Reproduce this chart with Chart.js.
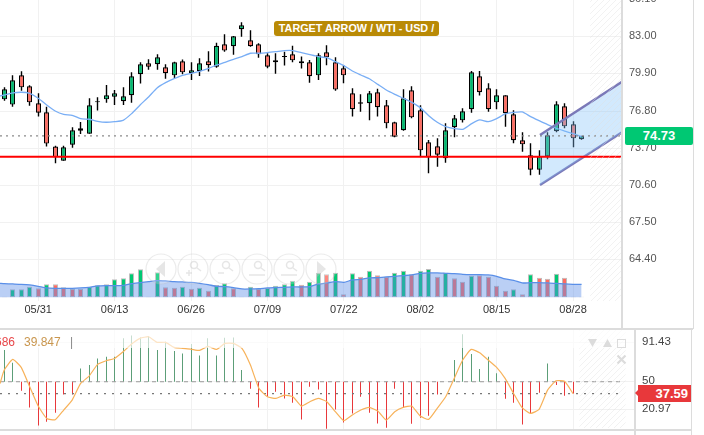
<!DOCTYPE html>
<html>
<head>
<meta charset="utf-8">
<script src="https://cdn.jsdelivr.net/npm/chart.js@4"></script>
<style>
  html, body { margin: 0; padding: 0; background: #fff; overflow: hidden; }
  body { width: 704px; height: 435px; position: relative; font-family: "Liberation Sans", Arial, sans-serif; }
  canvas { position: absolute; left: 0; }
  .rule { position: absolute; background: #dcdcdc; }
  .title { position: absolute; left: 274px; top: 21px; width: 165px; height: 15px; line-height: 15px; background: #b98a06; color: #fff; font-size: 10.8px; font-weight: bold; text-align: center; border-radius: 3px; white-space: nowrap; }
  .tag { position: absolute; color: #fff; font-weight: bold; font-size: 13px; text-align: center; }
  .legend { position: absolute; top: 335px; font-size: 12px; line-height: 14px; white-space: nowrap; }
</style>
</head>
<body>
<canvas id="mainChart" width="704" height="350" style="top:-20px"></canvas>
<canvas id="lowerChart" width="704" height="140" style="top:310px"></canvas>

<div class="rule" style="left:621px;top:0;width:2px;height:329px"></div>
<div class="rule" style="left:693px;top:0;width:1px;height:329px"></div>
<div class="rule" style="left:0;top:328px;width:693px;height:2px"></div>
<div class="rule" style="left:634px;top:330px;width:2px;height:105px"></div>
<div class="rule" style="left:691px;top:330px;width:1px;height:105px"></div>
<div class="rule" style="left:0;top:429px;width:692px;height:2px"></div>

<div class="title">TARGET ARROW / WTI - USD /</div>
<div class="tag" style="left:625px;top:127px;width:68px;height:18px;line-height:18px;background:#00c873;border-radius:2px">74.73</div>
<div class="tag" style="left:638px;top:385px;width:53px;height:17px;line-height:17px;background:#e8383b;text-align:right;box-sizing:border-box;padding-right:3px">37.59</div>
<div style="position:absolute;left:635px;top:390px;width:0;height:0;border-top:3px solid transparent;border-bottom:3px solid transparent;border-right:3px solid #e8383b"></div>
<div class="legend" style="left:-5px;color:#e8474a">686</div>
<div class="legend" style="left:24px;color:#c9964e">39.847</div>
<div class="legend" style="left:70px;color:#888">|</div>

<script>
// weekdays 2019, one per candle
const categories = ["05/27","05/28","05/29","05/30","05/31","06/03","06/04","06/05","06/06","06/07","06/10","06/11","06/12","06/13","06/14","06/17","06/18","06/19","06/20","06/21","06/24","06/25","06/26","06/27","06/28","07/01","07/02","07/03","07/04","07/05","07/08","07/09","07/10","07/11","07/12","07/15","07/16","07/17","07/18","07/19","07/22","07/23","07/24","07/25","07/26","07/29","07/30","07/31","08/01","08/02","08/05","08/06","08/07","08/08","08/09","08/12","08/13","08/14","08/15","08/16","08/19","08/20","08/21","08/22","08/23","08/26","08/27","08/28","08/29"];
const dateTicks = [4, 13, 22, 31, 40, 49, 58, 67];
const priceTicks = [64.40, 67.50, 70.60, 73.70, 76.80, 79.90, 83.00, 86.10];
const rsiTicks = [20.97, 50, 91.43];

const opens = [77.78,77.34,79.78,78.87,77.45,76.70,73.84,72.67,74.00,75.37,74.92,77.53,77.78,78.00,77.62,78.12,79.87,80.78,80.70,80.45,79.78,80.95,79.95,80.12,80.95,80.50,82.37,82.20,83.62,82.70,82.37,81.45,80.87,81.31,81.53,80.95,80.87,79.78,81.70,80.87,80.37,78.28,77.42,77.45,78.37,77.28,75.87,75.20,78.53,76.87,74.20,73.87,72.87,75.45,76.03,76.95,79.70,78.70,77.53,78.12,76.53,74.37,73.12,71.92,73.03,75.12,77.20,75.70,74.45];
const closes = [78.62,79.37,78.78,77.53,76.67,74.09,72.95,73.78,75.20,75.17,77.28,77.62,78.12,78.28,78.03,79.70,80.70,80.50,81.28,79.95,80.87,80.03,80.20,80.78,80.62,82.25,81.84,83.03,83.95,82.20,81.53,80.50,81.03,81.39,81.03,80.78,79.70,81.45,81.28,78.59,79.78,76.95,77.53,78.28,77.12,75.78,74.67,77.87,76.28,73.53,72.95,73.17,75.20,76.20,76.78,80.03,78.37,76.95,78.12,76.62,74.37,74.03,71.92,73.03,74.78,77.37,75.53,74.53,74.73];
const highs = [78.78,79.78,80.12,78.95,78.28,77.17,73.92,73.92,75.45,75.89,77.87,77.95,78.98,78.56,78.78,80.03,80.87,81.12,81.53,80.70,80.92,81.09,80.87,81.20,81.78,82.50,83.20,83.06,84.20,83.53,82.45,81.62,81.62,81.75,82.25,81.34,81.06,81.62,82.28,81.28,80.64,78.70,78.20,78.48,78.67,77.73,75.92,78.62,78.87,77.28,74.39,74.53,75.78,76.48,77.03,80.14,80.14,79.12,78.62,78.12,76.87,75.03,74.12,73.53,75.03,77.62,77.45,75.95,74.75];
const lows = [77.67,77.17,78.50,77.25,76.34,73.84,72.45,72.67,73.75,74.89,74.92,76.84,77.50,77.31,77.31,77.50,79.09,80.25,80.25,79.50,79.53,79.87,79.39,79.73,80.09,80.42,81.75,81.50,83.00,82.17,81.25,80.37,79.92,80.59,80.87,80.34,79.17,79.39,80.62,78.50,79.12,76.34,76.75,76.03,76.34,75.37,74.62,75.17,76.20,73.06,71.62,72.17,72.50,74.62,75.84,76.67,78.09,76.75,76.95,75.50,74.12,73.42,71.45,71.50,72.78,75.03,75.37,73.78,74.42];
const priceMA = [78.14,78.31,78.37,78.28,77.87,77.31,76.81,76.53,76.45,76.17,76.12,75.95,75.87,75.92,76.03,76.59,77.31,77.98,78.73,79.17,79.50,79.78,79.95,80.12,80.34,80.64,80.87,81.12,81.34,81.62,81.62,81.67,81.75,81.84,81.84,81.67,81.50,81.34,81.25,80.92,80.59,80.14,79.81,79.50,79.03,78.56,78.20,77.87,77.53,77.09,76.42,75.87,75.50,75.34,75.28,75.73,76.06,75.92,76.17,76.56,76.70,76.73,76.34,76.00,75.67,75.37,75.14,74.92,74.67];

const volumes = [2,24,24,32,27,39,39,30,25,25,32,36,39,54,57,72,84,2,75,30,29,32,26,29,20,37,42,27,2,32,25,28,35,39,50,38,47,74,69,74,9,72,62,80,66,62,74,80,69,80,85,62,74,57,47,65,66,62,35,20,24,9,69,59,56,71,59,2,2];
const volumeDirs = ["d","u","u","u","d","u","d","d","d","d","u","u","u","u","u","u","u","u","u","d","d","u","d","u","d","u","u","d","d","u","d","u","u","u","u","d","u","u","d","u","d","u","d","u","d","d","u","u","d","u","u","d","u","d","d","u","d","d","d","d","u","d","u","d","d","u","d","d","d"];
const volumeMA = [41,40,39,37,33,28,27,27,27,28,30,34,35,35,36,41,44,47,50,49,47,46,45,42,38,33,32,29,25,25,26,28,29,30,31,31,32,40,43,47,45,52,54,58,59,61,63,65,67,72,73,73,72,71,69,68,68,67,63,55,51,43,44,44,43,42,40,39,39];

const histValues = [83.3,70.0,40.5,23.0,4.1,7.9,17.4,36.7,36.7,64.0,67.5,74.5,76.3,76.3,95.6,98.7,96.6,98.0,83.3,92.1,82.2,79.8,89.6,77.7,95.6,77.7,96.3,96.6,62.3,42.6,23.0,34.2,39.5,32.5,27.9,10.4,44.7,41.9,0.6,20.9,7.2,16.7,34.2,17.4,6.2,1.6,42.6,22.7,5.8,12.1,14.2,36.7,50,72.8,99.8,79.1,63.3,76.3,58.8,32.1,27.9,5.1,16.7,38.4,69.3,46.5,35.3,37.7];
const rsiLine = [62.3,73.5,65.1,44.7,24.4,11.4,10.0,20.2,30.7,48.2,56.0,68.2,72.1,74.5,81.5,89.6,95.6,97.3,91.4,91.4,86.1,85.1,84.3,82.9,87.2,84.0,90.3,90.3,85.1,67.5,43.0,34.2,32.5,36.0,34.2,24.4,29.0,32.5,29.0,18.5,9.0,15.0,20.2,23.0,19.2,9.7,18.5,23.0,24.4,13.9,10.4,22.0,34.2,53.5,72.8,84.0,80.5,72.8,65.1,53.5,37.7,22.7,16.7,20.9,41.2,51.0,50.4,37.59];

const supportLevel = 73.0;
const lastPrice = 74.73;
const lastRsi = 37.59;
const rsiMid = 50;
// channel drawn on the chart, index / price
const channelX = [63.1, 72.76];
const channelUpper = [74.81, 79.25];
const channelLower = [70.64, 75.03];

const GREEN = "#00b96f", RED = "#ff6b60";
const mainMaxX = 72.76, lowerMaxX = 74.3;
const fontFam = '"Liberation Sans", Arial, sans-serif';

Chart.defaults.animation = false;
Chart.defaults.font.family = fontFam;

const indexes = categories.map((c, i) => i);
const upDown = i => closes[i] >= opens[i];

// bars sit on whole pixels so the 1px wicks stay crisp
const snapBars = {
    id: "snapBars",
    afterDatasetsUpdate(chart) {
        chart.getSortedVisibleDatasetMetas().forEach(meta => {
            if (meta.type !== "bar") return;
            meta.data.forEach(b => { b.x = Math.floor(b.x) + 0.5; });
        });
    }
};

function stripes(ctx, x0, y0, x1, y1) {
    const tile = document.createElement("canvas");
    tile.width = tile.height = 6;
    const t = tile.getContext("2d");
    t.strokeStyle = "rgba(222,222,222,0.4)";
    t.lineWidth = 1;
    t.beginPath();
    t.moveTo(-1, 7); t.lineTo(7, -1);
    t.moveTo(-1, 1); t.lineTo(1, -1);
    t.moveTo(5, 7); t.lineTo(7, 5);
    t.stroke();
    ctx.save();
    ctx.fillStyle = ctx.createPattern(tile, "repeat");
    ctx.fillRect(x0, y0, x1 - x0, y1 - y0);
    ctx.restore();
}

// the round zoom buttons over the volume panel
function zoomButton(ctx, cx, cy, kind) {
    ctx.save();
    ctx.strokeStyle = "rgba(190,190,190,0.3)";
    ctx.fillStyle = "rgba(255,255,255,0.2)";
    ctx.lineWidth = 1.2;
    ctx.beginPath();
    ctx.arc(cx, cy, 15, 0, Math.PI * 2);
    ctx.fill();
    ctx.stroke();
    ctx.strokeStyle = ctx.fillStyle = "rgba(190,190,190,0.38)";
    ctx.lineWidth = 1.5;
    ctx.beginPath();
    if (kind === "prev" || kind === "next") {
        const d = kind === "prev" ? -1 : 1;
        ctx.moveTo(cx - d * 4, cy - 8);
        ctx.lineTo(cx + d * 5, cy);
        ctx.lineTo(cx - d * 4, cy + 8);
        ctx.closePath();
        ctx.fill();
    } else {
        ctx.arc(cx + 1, cy - 4, 3.5, 0, Math.PI * 2);
        ctx.moveTo(cx + 3.5, cy - 1.5);
        ctx.lineTo(cx + 8, cy + 2);
        if (kind === "plus" || kind === "minus") {
            ctx.moveTo(cx - 7, cy + 4);
            ctx.lineTo(cx - 1, cy + 4);
        }
        if (kind === "plus") {
            ctx.moveTo(cx - 4, cy + 1);
            ctx.lineTo(cx - 4, cy + 7);
        }
        if (kind === "spread" || kind === "squeeze") {
            ctx.moveTo(cx - 8, cy + 6);
            ctx.lineTo(cx + 8, cy + 6);
        }
        ctx.stroke();
    }
    ctx.restore();
}

const mainDecor = {
    id: "mainDecor",
    afterDatasetsDraw(chart) {
        const { ctx, chartArea, scales } = chart;
        stripes(ctx, scales.x.getPixelForValue(69), chartArea.top, chartArea.right, chartArea.bottom);
    },
    afterDraw(chart) {
        const kinds = ["prev", "plus", "minus", "spread", "squeeze", "next"];
        kinds.forEach((k, i) => zoomButton(chart.ctx, 161 + i * 32, chart.chartArea.top + 269.5, k));
    }
};

new Chart(document.getElementById("mainChart"), {
    type: "bar",
    plugins: [snapBars, mainDecor],
    data: {
        datasets: [
            {
                type: "line", order: 3, yAxisID: "y",
                data: channelX.map((x, i) => ({ x, y: channelUpper[i] })),
                borderColor: "#7b79b8", borderWidth: 2.4, pointRadius: 0, tension: 0,
                fill: "+1", backgroundColor: "rgba(130,195,250,0.36)"
            },
            {
                type: "line", order: 3, yAxisID: "y",
                data: channelX.map((x, i) => ({ x, y: channelLower[i] })),
                borderColor: "#7b79b8", borderWidth: 2.4, pointRadius: 0, tension: 0, fill: false
            },
            {
                type: "line", order: 1, yAxisID: "y",
                data: [{ x: -0.5, y: supportLevel }, { x: mainMaxX, y: supportLevel }],
                borderColor: "#ff0000", borderWidth: 2, pointRadius: 0
            },
            {
                type: "line", order: 2, yAxisID: "y",
                data: [{ x: -0.5, y: lastPrice }, { x: mainMaxX, y: lastPrice }],
                borderColor: "#8a8a8a", borderWidth: 1.2, borderDash: [2, 4], pointRadius: 0
            },
            {
                type: "line", order: 4, yAxisID: "y",
                data: [{ x: -0.5, y: 78.06 }].concat(indexes.map(i => ({ x: i, y: priceMA[i] }))),
                borderColor: "#79aef5", borderWidth: 1.3, pointRadius: 0, tension: 0.2
            },
            {
                order: 5, yAxisID: "y", grouped: false, barThickness: 5, inflateAmount: 0, borderSkipped: false, borderWidth: 1.2, borderColor: "#000",
                data: indexes.map(i => ({ x: i, y: [opens[i], closes[i]] })),
                backgroundColor: indexes.map(i => upDown(i) ? GREEN : RED)
            },
            {
                order: 6, yAxisID: "y", grouped: false, barThickness: 1.4, inflateAmount: 0, borderWidth: 0, backgroundColor: "#000",
                data: indexes.map(i => ({ x: i, y: [lows[i], highs[i]] }))
            },
            {
                type: "line", order: 7, yAxisID: "yVol",
                data: [{ x: -0.5, y: 42 }].concat(indexes.map(i => ({ x: i, y: volumeMA[i] }))),
                borderColor: "#5a8fe8", borderWidth: 1.3, pointRadius: 0, tension: 0.2,
                fill: "origin", backgroundColor: "rgba(90,140,230,0.42)"
            },
            {
                order: 8, yAxisID: "yVol", grouped: false, barThickness: 5, inflateAmount: 0, borderSkipped: false, borderWidth: 1, borderColor: "#bdbdbd",
                data: indexes.map(i => ({ x: i, y: volumes[i] })),
                backgroundColor: indexes.map(i => volumeDirs[i] === "u" ? "#00c873" : RED)
            }
        ]
    },
    options: {
        responsive: false,
        layout: { padding: { top: 19.5, left: 0, right: 0, bottom: 0 } },
        plugins: { legend: { display: false }, tooltip: { enabled: false } },
        scales: {
            x: {
                type: "linear", min: -0.5, max: mainMaxX, offset: false,
                grid: { color: "#f1f1f1", drawTicks: false, offset: false },
                border: { display: false },
                afterBuildTicks: s => { s.ticks = dateTicks.map(v => ({ value: v })); },
                afterFit: s => { s.height = 29; },
                ticks: {
                    autoSkip: false, maxRotation: 0, padding: 2, color: "#333", font: { size: 11 },
                    callback: v => categories[v]
                }
            },
            y: {
                position: "right", min: 60.975, max: 86.1,
                grid: { color: "#f1f1f1", drawTicks: false },
                border: { display: false },
                afterBuildTicks: s => { s.ticks = priceTicks.map(v => ({ value: v })); },
                afterFit: s => { s.width = 82; },
                ticks: {
                    padding: 7, crossAlign: "near", labelOffset: -0.5, color: "#555", font: { size: 11 },
                    callback: v => v.toFixed(2)
                }
            },
            yVol: { display: false, min: -11.1, max: 893.4 }
        }
    }
});

const lowerDecor = {
    id: "lowerDecor",
    afterDatasetsDraw(chart) {
        const { ctx, chartArea, scales } = chart;
        stripes(ctx, scales.x.getPixelForValue(67.75), chartArea.top, scales.x.getPixelForValue(73.2), chartArea.bottom - 1);
        // legend strip washes the top of the panel out
        ctx.save();
        ctx.fillStyle = "rgba(255,255,255,0.65)";
        ctx.fillRect(chartArea.left, chartArea.top, chartArea.width, 18);
        // panel buttons, top right
        ctx.fillStyle = ctx.strokeStyle = "#dcdcdc";
        const t = chartArea.top;
        ctx.beginPath();
        ctx.moveTo(588, t + 9); ctx.lineTo(597, t + 9); ctx.lineTo(592.5, t + 17); ctx.closePath();
        ctx.moveTo(603, t + 17); ctx.lineTo(612, t + 17); ctx.lineTo(607.5, t + 9); ctx.closePath();
        ctx.fill();
        ctx.lineWidth = 1;
        ctx.strokeRect(617.5, t + 9.5, 8, 8);
        ctx.lineWidth = 2.2;
        ctx.beginPath();
        ctx.moveTo(617.5, t + 25.5); ctx.lineTo(625.5, t + 33.5);
        ctx.moveTo(625.5, t + 25.5); ctx.lineTo(617.5, t + 33.5);
        ctx.stroke();
        ctx.restore();
    }
};

const rsiIndexes = rsiLine.map((v, i) => i);
new Chart(document.getElementById("lowerChart"), {
    type: "bar",
    plugins: [snapBars, lowerDecor],
    data: {
        datasets: [
            {
                type: "line", order: 1,
                data: [{ x: -0.5, y: 48 }].concat(rsiIndexes.map(i => ({ x: i, y: rsiLine[i] }))),
                borderColor: "#f7b25a", borderWidth: 1.2, pointRadius: 0, tension: 0.15
            },
            {
                type: "line", order: 2,
                data: [{ x: -0.5, y: rsiMid }, { x: 73, y: rsiMid }],
                borderColor: "#999", borderWidth: 1, borderDash: [4, 4], pointRadius: 0
            },
            {
                type: "line", order: 2,
                data: [{ x: -0.5, y: lastRsi }, { x: 73, y: lastRsi }],
                borderColor: "#777", borderWidth: 1.2, borderDash: [2, 6], pointRadius: 0
            },
            {
                order: 3, grouped: false, barThickness: 1, inflateAmount: 0, borderWidth: 0,
                data: rsiIndexes.map(i => ({ x: i, y: [rsiMid, histValues[i]] })),
                backgroundColor: rsiIndexes.map(i => histValues[i] >= rsiMid ? "#5c9e78" : "#e8383b")
            }
        ]
    },
    options: {
        responsive: false,
        layout: { padding: { top: 20, bottom: 21, left: 0, right: 0 } },
        plugins: { legend: { display: false }, tooltip: { enabled: false } },
        scales: {
            x: {
                type: "linear", min: -0.5, max: lowerMaxX, offset: false,
                grid: { color: "#f1f1f1", drawTicks: false, offset: false },
                border: { display: false },
                afterBuildTicks: s => { s.ticks = dateTicks.map(v => ({ value: v })); },
                afterFit: s => { s.height = 0; },
                ticks: { display: false }
            },
            y: {
                position: "right", min: 0.3, max: 104.4,
                grid: { color: "#f1f1f1", drawTicks: false },
                border: { display: false },
                afterBuildTicks: s => { s.ticks = rsiTicks.map(v => ({ value: v })); },
                afterFit: s => { s.width = 69; },
                ticks: {
                    padding: 7, crossAlign: "near", labelOffset: -0.5, color: "#444", font: { size: 11.5 },
                    callback: v => String(v)
                }
            }
        }
    }
});
</script>
</body>
</html>
